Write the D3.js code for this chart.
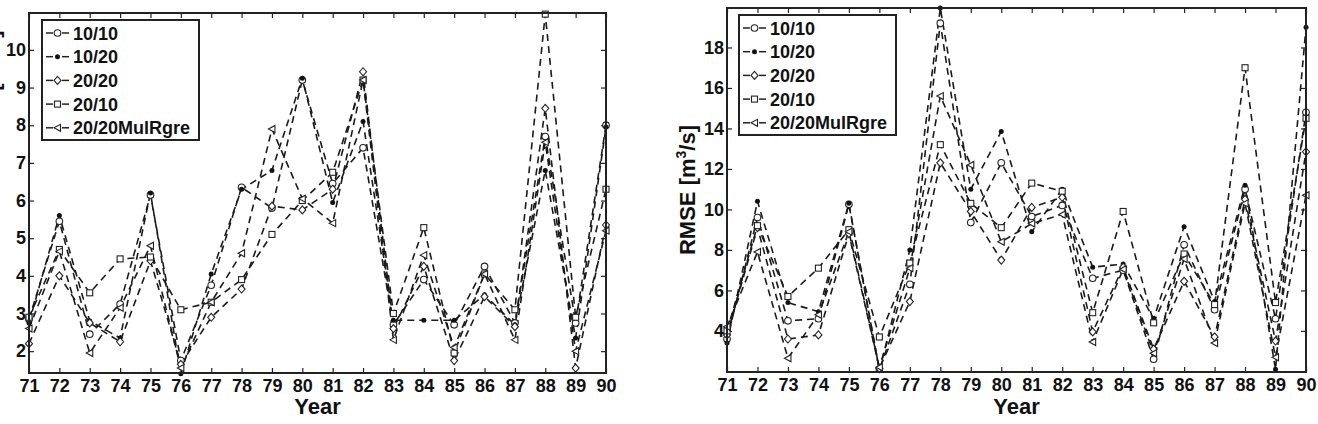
<!doctype html>
<html lang="en">
<head>
<meta charset="utf-8">
<script src="https://cdnjs.cloudflare.com/ajax/libs/d3/7.8.5/d3.min.js"></script>
<style type="text/css">
	body { margin: 0; background: #fff; }
	svg { display: block; font-family: 'Liberation Sans', Arial, sans-serif; font-weight: bold; }
	.axis text { font-size: 18px; font-weight: bold; fill: #111; font-family: 'Liberation Sans', Arial, sans-serif; }
	.axis line { stroke: #222; stroke-width: 1.2; }
	.axis path { display: none; }
</style>
</head>
<body>
<script>

// Years on the x axis (19xx)
const years = [71, 72, 73, 74, 75, 76, 77, 78, 79, 80, 81, 82, 83, 84, 85, 86, 87, 88, 89, 90];

const seriesNames = ["10/10", "10/20", "20/20", "20/10", "20/20MulRgre"];

// Left panel values
const mae1010 = [2.85, 5.45, 2.45, 3.25, 6.15, 1.75, 3.75, 6.35, 5.8, 9.2, 6.45, 7.4, 2.7, 3.9, 2.7, 4.25, 2.75, 7.7, 2.75, 8.0];
const mae1020 = [2.75, 5.6, 2.8, 2.35, 6.2, 1.4, 4.05, 6.3, 6.8, 9.25, 5.95, 8.1, 2.82, 2.82, 2.82, 3.5, 2.7, 6.8, 2.35, 7.95];
const mae2020 = [2.2, 4.0, 2.75, 2.25, 4.4, 1.65, 2.9, 3.65, 5.85, 5.75, 6.3, 9.42, 2.6, 4.25, 1.75, 3.45, 2.65, 8.45, 1.55, 5.35];
const mae2010 = [2.9, 4.7, 3.55, 4.45, 4.5, 3.1, 3.3, 3.9, 5.1, 6.0, 6.75, 9.2, 3.0, 5.28, 1.95, 4.05, 3.1, 10.95, 2.9, 6.3];
const maeMul  = [2.6, 4.65, 1.95, 3.15, 4.8, 1.55, 3.3, 4.6, 7.9, 6.05, 5.4, 9.2, 2.3, 4.55, 2.1, 4.05, 2.3, 7.55, 2.0, 5.2];

// Right panel values (RMSE)
const rmse1010 = [3.6, 9.6, 4.5, 4.6, 10.25, 2.1, 6.3, 19.2, 9.35, 12.3, 9.65, 10.2, 6.6, 7.0, 2.6, 8.25, 5.05, 11.0, 4.6, 14.8];
const rmse1020 = [3.4, 10.4, 5.4, 4.95, 10.3, 2.05, 8.0, 19.95, 11.0, 13.85, 8.9, 11.0, 7.15, 7.3, 4.6, 9.15, 5.45, 11.2, 2.1, 19.0];
const rmse2020 = [3.8, 9.1, 3.6, 3.8, 8.8, 2.15, 5.45, 12.3, 9.9, 7.5, 10.1, 10.6, 3.95, 7.15, 3.1, 6.45, 3.7, 10.5, 3.5, 12.85];
const rmse2010 = [4.0, 9.2, 5.7, 7.1, 9.0, 3.7, 7.35, 13.2, 10.3, 9.1, 11.3, 10.9, 4.9, 9.9, 4.4, 7.8, 5.3, 17.0, 5.4, 14.5];
const rmseMul  = [4.2, 7.9, 2.65, 4.8, 8.9, 2.2, 7.1, 15.6, 12.2, 8.4, 9.3, 9.75, 3.45, 7.05, 2.9, 7.55, 3.4, 10.3, 2.7, 10.7];

// Y tick labels
const maeTicks = [2, 3, 4, 5, 6, 7, 8, 9, 10];
const rmseTicks = [4, 6, 8, 10, 12, 14, 16, 18];

const markers = ["circle", "dot", "diamond", "square", "triangle"];

const w = 1318;
const h = 424;

const svg = d3.select("body")
	.append("svg")
	.attr("width", w)
	.attr("height", h);

// draw one marker symbol centred at (x, y)
function drawMarker(g, type, x, y) {
	if (type == "circle") {
		g.append("circle").attr("cx", x).attr("cy", y).attr("r", 3.3)
			.attr("fill", "#fff").attr("stroke", "#222").attr("stroke-width", 1.1);
	} else if (type == "dot") {
		g.append("circle").attr("cx", x).attr("cy", y).attr("r", 2.5)
			.attr("fill", "#111");
	} else if (type == "diamond") {
		g.append("path").attr("d", `M${x},${y - 4}L${x + 3.5},${y}L${x},${y + 4}L${x - 3.5},${y}Z`)
			.attr("fill", "#fff").attr("stroke", "#222").attr("stroke-width", 1.1);
	} else if (type == "square") {
		g.append("rect").attr("x", x - 3).attr("y", y - 3).attr("width", 6).attr("height", 6)
			.attr("fill", "#fff").attr("stroke", "#222").attr("stroke-width", 1.1);
	} else {
		g.append("path").attr("d", `M${x - 3.5},${y}L${x + 3},${y - 3.5}L${x + 3},${y + 3.5}Z`)
			.attr("fill", "#fff").attr("stroke", "#222").attr("stroke-width", 1.1);
	}
}

function drawPanel(opts) {
	const g = svg.append("g");

	const xScale = d3.scaleLinear()
		.domain([d3.min(years), d3.max(years)])
		.range([opts.left, opts.right]);

	const yScale = d3.scaleLinear()
		.domain(opts.domain)
		.range([opts.bottom, opts.top]);

	// axes, ticks pointing inward on all four sides
	g.append("g").attr("class", "axis")
		.attr("transform", "translate(0," + opts.bottom + ")")
		.call(d3.axisBottom(xScale).tickValues(years).tickSize(-5).tickPadding(6).tickFormat(d3.format("d")));

	g.append("g").attr("class", "axis")
		.attr("transform", "translate(0," + opts.top + ")")
		.call(d3.axisTop(xScale).tickValues(years).tickSize(-5).tickFormat(""));

	g.append("g").attr("class", "axis")
		.attr("transform", "translate(" + opts.left + ",0)")
		.call(d3.axisLeft(yScale).tickValues(opts.ticks).tickSize(-5).tickPadding(3));

	g.append("g").attr("class", "axis")
		.attr("transform", "translate(" + opts.right + ",0)")
		.call(d3.axisRight(yScale).tickValues(opts.ticks).tickSize(-5).tickFormat(""));

	// series lines
	const line = d3.line()
		.x((d, i) => xScale(years[i]))
		.y(d => yScale(d));

	opts.series.forEach((s, k) => {
		g.append("path")
			.datum(s)
			.attr("d", line)
			.attr("fill", "none")
			.attr("stroke", "#1a1a1a")
			.attr("stroke-width", 1.6)
			.attr("stroke-dasharray", "7,5");
	});

	opts.series.forEach((s, k) => {
		s.forEach((v, i) => drawMarker(g, markers[k], xScale(years[i]), yScale(v)));
	});

	// box
	g.append("rect")
		.attr("x", opts.left).attr("y", opts.top)
		.attr("width", opts.right - opts.left)
		.attr("height", opts.bottom - opts.top)
		.attr("fill", "none").attr("stroke", "#222").attr("stroke-width", 2);

	// x label
	g.append("text")
		.attr("x", (opts.left + opts.right) / 2)
		.attr("y", 414)
		.attr("text-anchor", "middle")
		.attr("font-size", 22)
		.attr("fill", "#111")
		.text("Year");

	// y label
	const yl = g.append("text")
		.attr("transform", "translate(" + opts.labelX + "," + opts.labelY + ") rotate(-90)")
		.attr("text-anchor", "middle")
		.attr("font-size", 22)
		.attr("fill", "#111");
	yl.append("tspan").text(opts.label + " [m");
	yl.append("tspan").attr("font-size", 14).attr("dy", -9).text("3");
	yl.append("tspan").attr("dy", 9).text("/s]");

	// legend
	const lg = g.append("g").attr("id", "legend");
	lg.append("rect")
		.attr("x", opts.legX).attr("y", opts.legY)
		.attr("width", 157).attr("height", 120)
		.attr("fill", "#fff").attr("stroke", "#222").attr("stroke-width", 2);

	seriesNames.forEach((name, k) => {
		const cy = opts.legY + 13 + k * 23.7;
		const lx = opts.legX + 4;
		lg.append("line").attr("x1", lx).attr("x2", lx + 7).attr("y1", cy).attr("y2", cy)
			.attr("stroke", "#222").attr("stroke-width", 1.5);
		lg.append("line").attr("x1", lx + 16).attr("x2", lx + 23).attr("y1", cy).attr("y2", cy)
			.attr("stroke", "#222").attr("stroke-width", 1.5);
		drawMarker(lg, markers[k], lx + 11.5, cy);
		lg.append("text")
			.attr("x", opts.legX + 31)
			.attr("y", cy + 6.5)
			.attr("font-size", 18)
			.attr("fill", "#111")
			.text(name);
	});
}

drawPanel({
	left: 29, right: 606, top: 13, bottom: 373,
	domain: [1.42, 10.98],
	ticks: maeTicks,
	series: [mae1010, mae1020, mae2020, mae2010, maeMul],
	label: "MAE",
	labelX: -1, labelY: 88,
	legX: 42, legY: 20
});

drawPanel({
	left: 727, right: 1306, top: 8, bottom: 372,
	domain: [1.97, 19.95],
	ticks: rmseTicks,
	series: [rmse1010, rmse1020, rmse2020, rmse2010, rmseMul],
	label: "RMSE",
	labelX: 695, labelY: 190,
	legX: 739, legY: 15
});

</script>
</body>
</html>
